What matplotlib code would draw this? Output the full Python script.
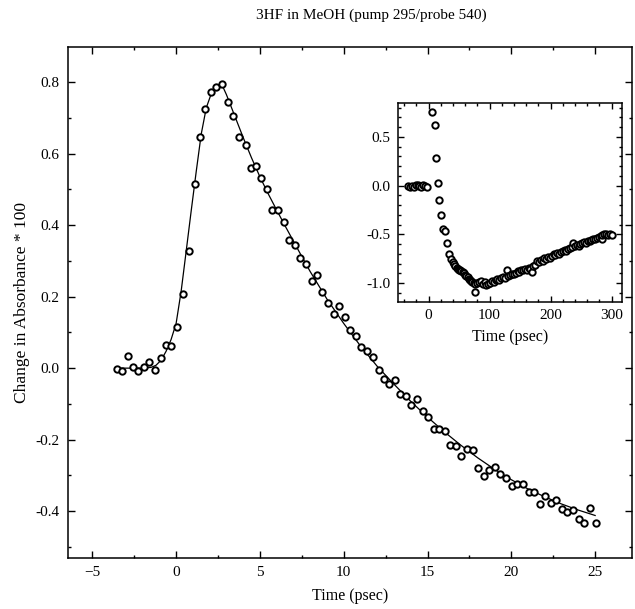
import matplotlib
matplotlib.use("Agg")
import matplotlib.pyplot as plt
from matplotlib.ticker import MultipleLocator, FormatStrFormatter

plt.rcParams['font.family'] = ['Liberation Serif', 'DejaVu Serif']

# ---------------- data ----------------
title = "3HF in MeOH (pump 295/probe 540)"
xlabel = "Time (psec)"
ylabel = "Change in Absorbance * 100"

main_t = [-3.54, -3.24, -2.89, -2.59, -2.25, -1.91, -1.59, -1.25, -0.92, -0.60,
          -0.28, 0.04, 0.40, 0.76, 1.10, 1.43, 1.75, 2.09, 2.40, 2.76,
          3.10, 3.42, 3.78, 4.14, 4.44, 4.78, 5.09, 5.41, 5.73, 6.07,
          6.41, 6.75, 7.09, 7.42, 7.74, 8.08, 8.42, 8.73, 9.07, 9.39,
          9.73, 10.07, 10.39, 10.71, 11.05, 11.38, 11.72, 12.08, 12.38, 12.72,
          13.03, 13.37, 13.71, 14.03, 14.37, 14.70, 15.02, 15.36, 15.70, 16.02,
          16.36, 16.70, 17.01, 17.35, 17.69, 18.03, 18.35, 18.69, 19.03, 19.34,
          19.68, 20.02, 20.36, 20.70, 21.03, 21.35, 21.69, 22.03, 22.35, 22.69,
          23.03, 23.34, 23.68, 24.02, 24.36, 24.72, 25.06]
main_a = [-0.003, -0.008, 0.034, 0.004, -0.007, 0.004, 0.017, -0.006, 0.027, 0.066,
          0.063, 0.115, 0.206, 0.327, 0.516, 0.646, 0.726, 0.771, 0.785, 0.794,
          0.743, 0.705, 0.647, 0.625, 0.560, 0.566, 0.532, 0.501, 0.441, 0.442,
          0.410, 0.357, 0.343, 0.309, 0.290, 0.244, 0.260, 0.213, 0.181, 0.152,
          0.175, 0.143, 0.108, 0.091, 0.058, 0.048, 0.032, -0.004, -0.029, -0.043,
          -0.034, -0.073, -0.077, -0.104, -0.087, -0.119, -0.138, -0.170, -0.171, -0.176,
          -0.215, -0.218, -0.246, -0.227, -0.228, -0.278, -0.301, -0.285, -0.276, -0.297,
          -0.307, -0.329, -0.324, -0.325, -0.345, -0.345, -0.379, -0.357, -0.376, -0.369,
          -0.394, -0.403, -0.398, -0.423, -0.434, -0.392, -0.434]

fit_t = [-3.6, -2.0, -1.5, -1.2, -0.9, -0.6, -0.3, 0.0, 0.3, 0.6, 0.9, 1.2, 1.5,
         1.8, 2.1, 2.4, 2.7, 3.0, 3.5, 4.0, 4.5, 5.0, 5.5, 6.0, 6.5, 7.0, 7.5, 8.0,
         9.0, 10.0, 11.0, 12.0, 13.0, 14.0, 15.0, 16.0, 17.0, 18.0, 19.0, 20.0,
         21.0, 22.0, 23.0, 24.0, 25.0]
fit_a = [0.0, 0.0, 0.002, 0.008, 0.022, 0.047, 0.080, 0.125, 0.215, 0.327, 0.440,
         0.550, 0.655, 0.728, 0.768, 0.788, 0.796, 0.765, 0.705, 0.645, 0.588,
         0.535, 0.487, 0.442, 0.398, 0.355, 0.312, 0.270, 0.193, 0.125, 0.062,
         0.005, -0.045, -0.093, -0.137, -0.178, -0.216, -0.251, -0.283, -0.312,
         -0.338, -0.360, -0.380, -0.397, -0.412]

inset_t = [-33, -30, -27, -24, -21, -18, -15, -12, -9, -6, -3,
           6, 10, 13, 15, 18, 21, 24, 27, 31, 34, 37,
           40, 42, 44, 46, 48, 50, 52, 54, 56, 58, 60, 62, 64, 66, 68, 70, 72, 74, 76, 77,
           80, 83, 86, 89, 92, 95, 98, 101, 104, 107, 110, 113, 116, 119, 122, 125, 128,
           131, 134, 137, 140, 143, 146, 149, 152, 155, 158, 161, 164, 167, 169, 172,
           175, 178, 181, 184, 187, 190, 193, 196, 199, 202, 205, 208, 211, 214, 217,
           220, 223, 226, 229, 232, 235, 237, 240, 243, 246, 249, 252, 255, 258, 261,
           264, 267, 270, 273, 276, 279, 282, 284, 285, 288, 291, 294, 297, 300]
inset_a = [0.00, -0.01, 0.00, -0.01, 0.01, 0.01, 0.00, -0.01, 0.01, 0.00, -0.01,
           0.75, 0.62, 0.28, 0.03, -0.15, -0.30, -0.44, -0.47, -0.59, -0.70, -0.75,
           -0.78, -0.80, -0.82, -0.84, -0.85, -0.86, -0.87, -0.88, -0.89, -0.90, -0.92,
           -0.93, -0.94, -0.96, -0.97, -0.98, -0.99, -1.00, -1.01, -1.09,
           -1.00, -0.99, -0.98, -1.01, -0.99, -1.02, -1.01, -1.00, -0.98, -0.99, -0.97,
           -0.96, -0.97, -0.95, -0.94, -0.95, -0.86, -0.93, -0.92, -0.91, -0.91, -0.90,
           -0.88, -0.89, -0.87, -0.86, -0.85, -0.86, -0.84, -0.85, -0.89, -0.82,
           -0.81, -0.77, -0.78, -0.76, -0.77, -0.74, -0.75, -0.73, -0.74, -0.72, -0.70,
           -0.71, -0.69, -0.70, -0.68, -0.67, -0.66, -0.67, -0.65, -0.64, -0.63, -0.59,
           -0.62, -0.61, -0.62, -0.60, -0.59, -0.58, -0.59, -0.57, -0.57, -0.56, -0.55,
           -0.55, -0.54, -0.53, -0.52, -0.55, -0.51, -0.50, -0.50, -0.51, -0.50, -0.51]

main_xticks = [-5, 0, 5, 10, 15, 20, 25]
main_yticks = [-0.4, -0.2, 0.0, 0.2, 0.4, 0.6, 0.8]
inset_xticks = [0, 100, 200, 300]
inset_yticks = [-1.0, -0.5, 0.0, 0.5]

# ---------------- figure ----------------
fig = plt.figure(figsize=(6.35, 6.09), dpi=100)
ax = fig.add_axes([0.1071, 0.0837, 0.8882, 0.8391])

def style(a, fs):
    for s in a.spines.values():
        s.set_linewidth(1.1)
    a.tick_params(which='both', direction='in', top=True, right=True,
                  labelsize=fs, width=1.0)
    a.tick_params(which='major', length=5, pad=6)
    a.tick_params(which='minor', length=2.5)

ax.plot(fit_t, fit_a, color='black', lw=0.9, zorder=2)
ax.plot(main_t, main_a, linestyle='none', marker='o', ms=4.6, mfc='white',
        mec='black', mew=1.4, zorder=3)
ax.set_xlim(-6.45, 27.2)
ax.set_ylim(-0.531, 0.898)
ax.set_xticks(main_xticks)
ax.set_yticks(main_yticks)
ax.xaxis.set_minor_locator(MultipleLocator(2.5))
ax.yaxis.set_minor_locator(MultipleLocator(0.1))
ax.yaxis.set_major_formatter(FormatStrFormatter('%.1f'))
style(ax, 11)
ax.set_xlabel(xlabel, fontsize=11.5, labelpad=6)
ax.set_ylabel(ylabel, fontsize=12.5, labelpad=4)
fig.text(0.585, 0.975, title, ha='center', va='center', fontsize=11)

ins = fig.add_axes([0.6263, 0.5046, 0.3528, 0.3268])
ins.plot(inset_t, inset_a, linestyle='none', marker='o', ms=4.6, mfc='white',
         mec='black', mew=1.4)
ins.set_xlim(-50.5, 316.7)
ins.set_ylim(-1.19, 0.85)
ins.set_xticks(inset_xticks)
ins.set_yticks(inset_yticks)
ins.xaxis.set_minor_locator(MultipleLocator(20))
ins.yaxis.set_minor_locator(MultipleLocator(0.1))
ins.yaxis.set_major_formatter(FormatStrFormatter('%.1f'))
style(ins, 11)
ins.tick_params(which='major', length=4, pad=5)
ins.tick_params(which='minor', length=2)
ins.set_xlabel(xlabel, fontsize=11.5, labelpad=5)

fig.savefig("out.png", dpi=100)
